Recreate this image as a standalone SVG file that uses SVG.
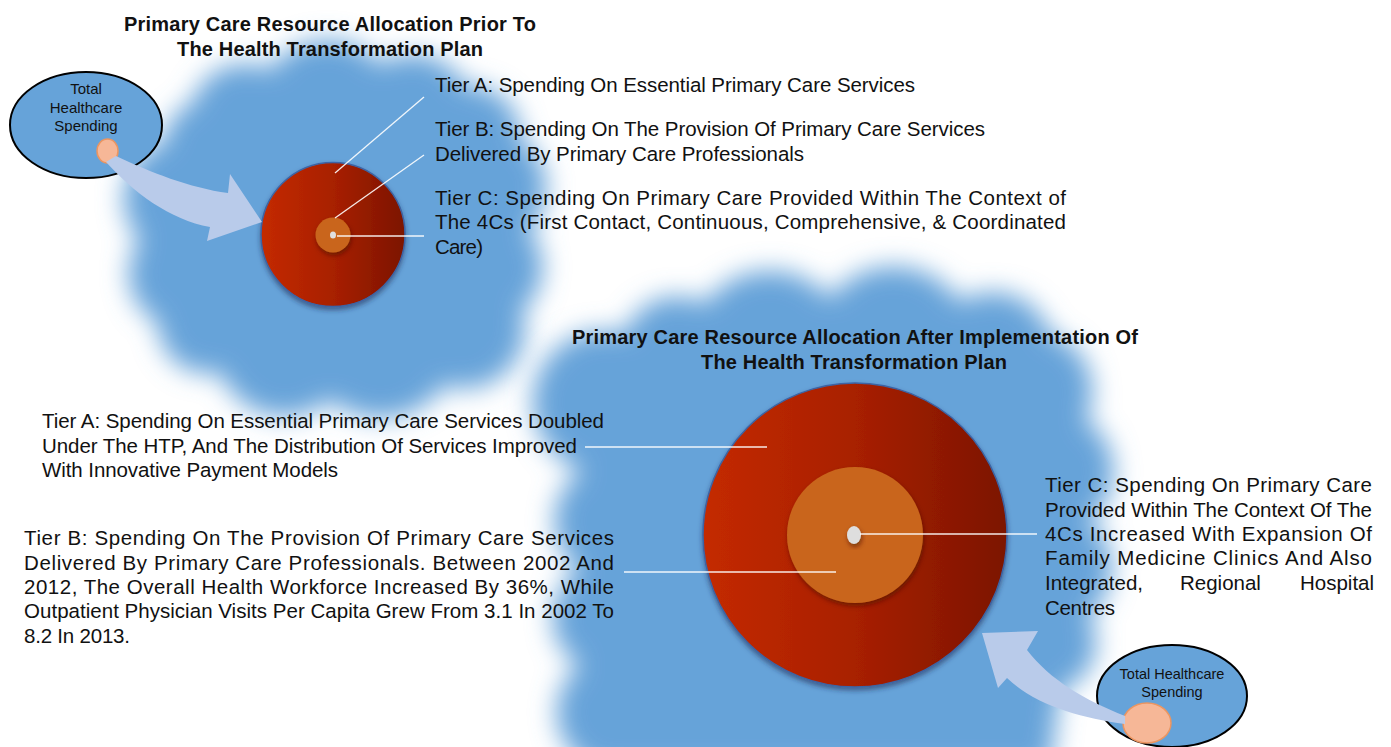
<svg xmlns="http://www.w3.org/2000/svg" width="1391" height="747" viewBox="0 0 1391 747">
<defs>
<style>
.t{font-family:"Liberation Sans",Arial,sans-serif;font-size:20.5px;fill:#111}
.h{font-family:"Liberation Sans",Arial,sans-serif;font-size:20px;font-weight:bold;fill:#111;text-anchor:middle}
.e{font-family:"Liberation Sans",Arial,sans-serif;fill:#111;text-anchor:middle}
.ld{stroke:#ffffff;stroke-width:1.3;fill:none;opacity:0.9}
.arrow{fill:#b9cbea}
.ell{fill:#66a3d9;stroke:#000;stroke-width:2}
.dot{fill:#f6b797;stroke:#ec9560;stroke-width:1.5}
.blob{fill:#66a3d9}
</style>
<filter id="blur" x="-20%" y="-20%" width="140%" height="140%"><feGaussianBlur stdDeviation="13"/></filter>
<filter id="sh" x="-20%" y="-20%" width="140%" height="140%"><feDropShadow dx="0" dy="3" stdDeviation="2.5" flood-color="#1a2a50" flood-opacity="0.55"/></filter>
<filter id="sh2" x="-30%" y="-30%" width="160%" height="160%"><feDropShadow dx="1" dy="3" stdDeviation="2.5" flood-color="#4a1500" flood-opacity="0.6"/></filter>
<linearGradient id="red" x1="0" y1="0" x2="1" y2="0">
<stop offset="0" stop-color="#c42a02"/>
<stop offset="0.5" stop-color="#a82000"/>
<stop offset="1" stop-color="#7c1400"/>
</linearGradient>
</defs>
<rect width="1391" height="747" fill="#ffffff"/>

<g id="blob-top">
<path class="blob" filter="url(#blur)" d="M192,104 A55,55 0 0 1 270,70 A70,70 0 0 1 380,64 A60,60 0 0 1 465,86 A50,50 0 0 1 520,138 A60,60 0 0 1 528,230 A55,55 0 0 1 522,310 A60,60 0 0 1 445,385 A80,80 0 0 1 330,400 A70,70 0 0 1 220,372 A50,50 0 0 1 158,322 A55,55 0 0 1 140,240 A60,60 0 0 1 165,142 A40,40 0 0 1 192,104 Z"/>
</g>
<g id="blob-bottom">
<path class="blob" filter="url(#blur)" d="M625,334 A55,55 0 0 1 705,304 A80,80 0 0 1 830,298 A80,80 0 0 1 960,302 A60,60 0 0 1 1050,334 A60,60 0 0 1 1085,420 A60,60 0 0 1 1088,520 A60,60 0 0 1 1088,615 A50,50 0 0 1 1060,690 L1050,770 L600,770 A60,60 0 0 1 580,665 A55,55 0 0 1 580,570 A60,60 0 0 1 583,470 A55,55 0 0 1 625,334 Z"/>
</g>

<g id="title-top">
<text class="h" x="330" y="31" textLength="412">Primary Care Resource Allocation Prior To</text>
<text class="h" x="330" y="56" textLength="306">The Health Transformation Plan</text>
</g>
<g id="title-bottom">
<text class="h" x="855" y="344" textLength="566">Primary Care Resource Allocation After Implementation Of</text>
<text class="h" x="854" y="369" textLength="306">The Health Transformation Plan</text>
</g>

<g id="spending-top">
<ellipse class="ell" cx="86" cy="125" rx="76" ry="53"/>
<text class="e" style="font-size:15px" x="86" y="94">Total</text>
<text class="e" style="font-size:15px" x="86" y="113">Healthcare</text>
<text class="e" style="font-size:15px" x="86" y="131">Spending</text>
<ellipse class="dot" cx="107.5" cy="151" rx="10.5" ry="12"/>
</g>

<g id="spending-bottom">
<ellipse class="ell" cx="1172" cy="696" rx="75" ry="51"/>
<text class="e" style="font-size:14.5px" x="1172" y="679">Total Healthcare</text>
<text class="e" style="font-size:14.5px" x="1172" y="697">Spending</text>
<ellipse class="dot" cx="1147" cy="723" rx="24" ry="20"/>
</g>

<g id="circle-top">
<circle cx="333" cy="234.5" r="72" fill="url(#red)" stroke="#3d64a4" stroke-width="1.5" filter="url(#sh)"/>
<circle cx="333" cy="235" r="17.5" fill="#c9651b" filter="url(#sh2)"/>
<ellipse cx="333" cy="235" rx="3" ry="3.5" fill="#e0e0e0"/>
</g>

<g id="circle-bottom">
<circle cx="855" cy="535" r="152" fill="url(#red)" stroke="#3d64a4" stroke-width="1.5" filter="url(#sh)"/>
<circle cx="855" cy="535" r="68" fill="#c9651b" filter="url(#sh2)"/>
<ellipse cx="854" cy="535" rx="7" ry="9" fill="#dedede" filter="url(#sh2)"/>
</g>

<g id="connectors">
<path class="arrow" d="M116,156 C150,172 190,188 228,193 L230,174 L262,222 L207,241 L210,227 C170,220 133,192 106,162 Z"/>
<path class="arrow" d="M1125,716 C1085,700 1050,680 1027,650 L1038,631 L982,633 L998,688 L1007,678 C1035,705 1080,718 1125,724 Z"/>
<line class="ld" x1="335" y1="173" x2="424" y2="97"/>
<line class="ld" x1="335" y1="218" x2="424" y2="155"/>
<line class="ld" x1="337" y1="236" x2="424" y2="236"/>
<line class="ld" x1="585" y1="447" x2="767" y2="447"/>
<line class="ld" x1="624" y1="572" x2="836" y2="572"/>
<line class="ld" x1="860" y1="534" x2="1037" y2="534"/>
</g>

<g id="labels-top">
<text class="t" x="435" y="92" textLength="480">Tier A: Spending On Essential Primary Care Services</text>
<text class="t" x="435" y="136" textLength="550">Tier B: Spending On The Provision Of Primary Care Services</text>
<text class="t" x="435" y="161" textLength="369">Delivered By Primary Care Professionals</text>
<text class="t" x="435" y="205" textLength="631">Tier C: Spending On Primary Care Provided Within The Context of</text>
<text class="t" x="435" y="229" textLength="631">The 4Cs (First Contact, Continuous, Comprehensive, &amp; Coordinated</text>
<text class="t" x="435" y="254" textLength="48">Care)</text>
</g>

<g id="labels-bottom-left">
<text class="t" x="42" y="428" textLength="562">Tier A: Spending On Essential Primary Care Services Doubled</text>
<text class="t" x="42" y="453" textLength="535">Under The HTP, And The Distribution Of Services Improved</text>
<text class="t" x="42" y="477" textLength="296">With Innovative Payment Models</text>
<text class="t" x="24" y="545" textLength="590">Tier B: Spending On The Provision Of Primary Care Services</text>
<text class="t" x="24" y="570" textLength="590">Delivered By Primary Care Professionals. Between 2002 And</text>
<text class="t" x="24" y="594" textLength="590">2012, The Overall Health Workforce Increased By 36%, While</text>
<text class="t" x="24" y="618" textLength="590">Outpatient Physician Visits Per Capita Grew From 3.1 In 2002 To</text>
<text class="t" x="24" y="643" textLength="106">8.2 In 2013.</text>
</g>

<g id="labels-bottom-right">
<text class="t" x="1045" y="492" textLength="327">Tier C: Spending On Primary Care</text>
<text class="t" x="1045" y="517" textLength="327">Provided Within The Context Of The</text>
<text class="t" x="1045" y="541" textLength="327">4Cs Increased With Expansion Of</text>
<text class="t" x="1045" y="565" textLength="327">Family Medicine Clinics And Also</text>
<text class="t" y="590"><tspan x="1045">Integrated,</tspan><tspan x="1180">Regional</tspan><tspan x="1300">Hospital</tspan></text>
<text class="t" x="1045" y="615" textLength="70">Centres</text>
</g>
</svg>
